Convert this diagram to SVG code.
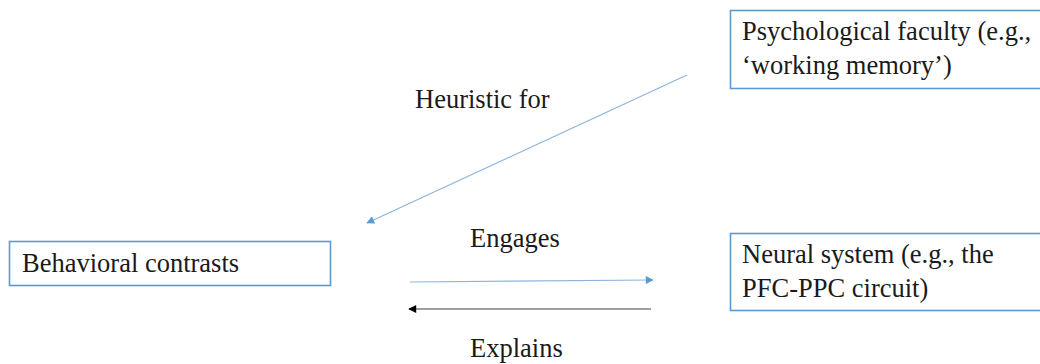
<svg xmlns="http://www.w3.org/2000/svg" width="1040" height="364" viewBox="0 0 1040 364">
<style>
.box{fill:#ffffff;stroke:#5B9BD5;stroke-width:1.6}
.t{font-family:'Liberation Serif','Times New Roman','DejaVu Serif',serif;font-size:26.5px;fill:#1a1a1a}
.blue{stroke:#8db4dc;stroke-width:1.2;fill:none}
.dark{stroke:#404040;stroke-width:1.2;fill:none}
</style>
<defs>
<marker id="ab" viewBox="0 0 10 10" refX="9" refY="5" markerWidth="10" markerHeight="8" markerUnits="userSpaceOnUse" orient="auto"><path d="M0,0 L10,5 L0,10 z" fill="#5B9BD5"/></marker>
<marker id="ak" viewBox="0 0 10 10" refX="9" refY="5" markerWidth="10" markerHeight="8" markerUnits="userSpaceOnUse" orient="auto"><path d="M0,0 L10,5 L0,10 z" fill="#000000"/></marker>
</defs>
<rect width="1040" height="364" fill="#ffffff"/>
<g id="connectors">
<line class="blue" x1="687" y1="75" x2="367" y2="223" marker-end="url(#ab)"/>
<line class="blue" x1="410" y1="282" x2="653" y2="280" marker-end="url(#ab)"/>
<line class="dark" x1="651" y1="309" x2="409" y2="309" marker-end="url(#ak)"/>
</g>
<g id="label-heuristic"><text class="t" x="415" y="108">Heuristic for</text></g>
<g id="label-engages"><text class="t" x="470" y="247">Engages</text></g>
<g id="label-explains"><text class="t" x="470" y="357">Explains</text></g>
<g id="node-psych">
<rect class="box" x="730.5" y="10.5" width="320" height="78"/>
<text class="t" x="742" y="40">Psychological faculty (e.g.,</text>
<text class="t" x="742" y="74">‘working memory’)</text>
</g>
<g id="node-behavioral">
<rect class="box" x="9.5" y="241.5" width="321" height="44"/>
<text class="t" x="22" y="272">Behavioral contrasts</text>
</g>
<g id="node-neural">
<rect class="box" x="730.5" y="233.5" width="320" height="77"/>
<text class="t" x="742" y="263">Neural system (e.g., the</text>
<text class="t" x="742" y="297">PFC-PPC circuit)</text>
</g>
</svg>
